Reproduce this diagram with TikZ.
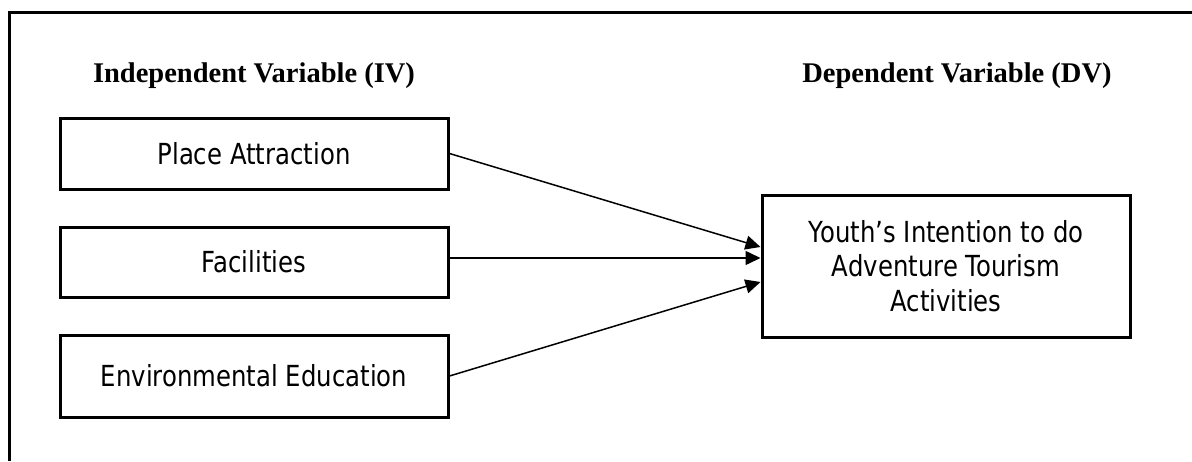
\documentclass[tikz,border=0pt]{standalone}
\usepackage{fontspec}
\setmainfont{Liberation Serif}
\newfontfamily\boxfont[FakeStretch=0.84]{DejaVu Sans}
\usetikzlibrary{arrows.meta}
\tikzset{
  varbox/.style={draw=black, line width=3pt, inner sep=0pt, align=center,
    font=\boxfont\fontsize{29}{34.5}\selectfont},
  heading/.style={anchor=base, font=\bfseries\fontsize{28.5}{32}\selectfont},
  link/.style={draw=black, line width=1.5pt, -{Triangle[length=15pt,width=14pt]}},
  frame/.style={draw=black, line width=3pt}
}
\begin{document}
\begin{tikzpicture}[x=1pt,y=-1pt]
\useasboundingbox (0,0) rectangle (1192,461);
\draw[frame] (1192,12) -- (9,12) -- (9,461);
\node[heading] (hiv) at (254,82) {Independent Variable (IV)};
\node[heading] (hdv) at (957,82) {Dependent Variable (DV)};
\node[varbox, minimum width=388pt, minimum height=71pt] (b1) at (254,153.5) {Place Attraction};
\node[varbox, minimum width=388pt, minimum height=70pt] (b2) at (254,262) {Facilities};
\node[varbox, minimum width=388pt, minimum height=82pt] (b3) at (254,376) {Environmental Education};
\node[varbox, minimum width=368pt, minimum height=142pt] (r) at (946,266) {Youth’s Intention to do\\Adventure Tourism\\Activities};
\draw[link] (b1.east) -- ([yshift=19pt]r.west);
\draw[link] ([yshift=4pt]b2.east) -- ([yshift=8pt]r.west);
\draw[link] (b3.east) -- ([yshift=-16pt]r.west);
\end{tikzpicture}
\end{document}
